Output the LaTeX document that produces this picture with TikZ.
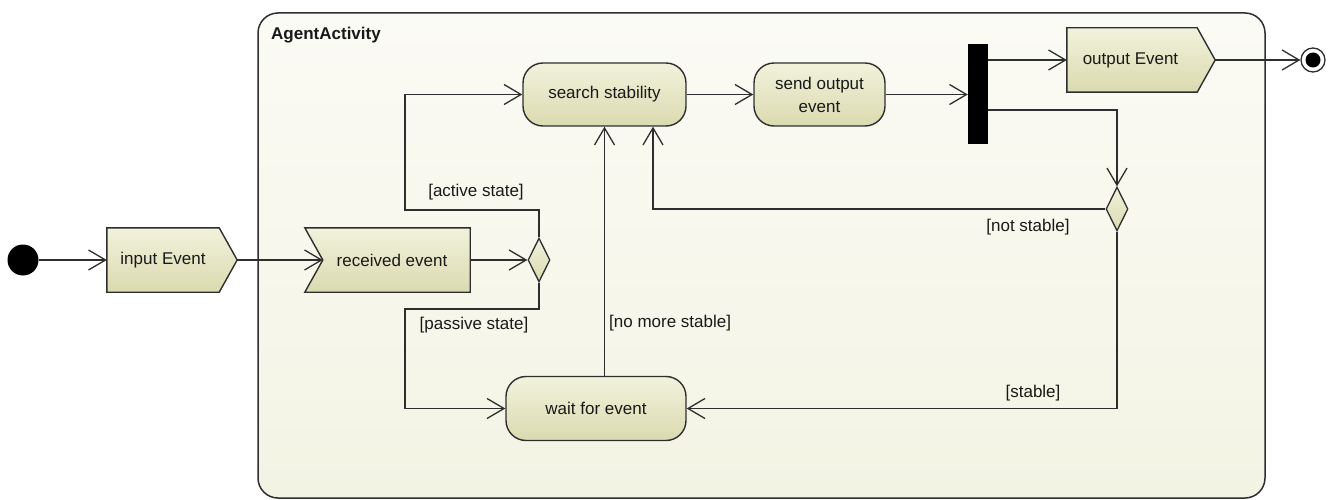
\documentclass[tikz,border=0pt]{standalone}
\usepackage{fontspec}
\setmainfont{Liberation Sans}
\usetikzlibrary{arrows.meta,shapes.geometric,calc}

\definecolor{linec}{HTML}{2E2E2E}
\definecolor{nodetop}{RGB}{242,242,220}
\definecolor{nodebot}{RGB}{218,218,176}
\definecolor{frametop}{RGB}{251,251,245}
\definecolor{framebot}{RGB}{243,243,228}

\begin{document}
\begin{tikzpicture}[x=1pt,y=-1pt,
  txt/.style={font=\fontsize{17}{23}\selectfont, text=black!90},
  frame/.style={draw=linec, line width=1.5pt, rounded corners=20pt,
    top color=frametop, bottom color=framebot, inner sep=0pt},
  act/.style={txt, draw=linec, line width=1.4pt, rounded corners=20pt,
    top color=nodetop, bottom color=nodebot, inner sep=0pt, align=center},
  sigtext/.style={txt, inner sep=0pt, minimum height=64pt},
  sigshape/.style={draw=linec, line width=1.4pt, top color=nodetop, bottom color=nodebot},
  decision/.style={diamond, draw=linec, line width=1.3pt, top color=nodetop,
    bottom color=nodebot, minimum width=22pt, minimum height=44pt, inner sep=0pt},
  forkbar/.style={fill=black, draw=none, minimum width=20pt, minimum height=100pt, inner sep=0pt},
  guard/.style={txt, inner sep=0pt},
  flow/.style={draw=linec, line width=1.3pt,
    -{Straight Barb[length=17pt,width=20pt,line width=1.3pt]}}
]
\useasboundingbox (0,0) rectangle (1331,500);

% activity frame
\node[frame, minimum width=1007pt, minimum height=485pt] (agent) at (761.5,255.5) {};
\node[txt, font=\fontsize{17}{23}\selectfont\bfseries, anchor=west, inner sep=0pt]
  (agentlabel) at (271,35) {AgentActivity};

% initial and final nodes
\node[circle, fill=black, minimum size=31pt, inner sep=0pt] (start) at (23,260) {};
\node[circle, draw=linec, line width=1.3pt, fill=white, minimum size=24pt, inner sep=0pt] (final) at (1313,60) {};
\fill[black] (final.center) circle (7.5pt);

% input Event (send signal)
\node[sigtext, minimum width=112pt] (inev) at (163,260) {};
\path[sigshape] (inev.north west) -- (inev.north east) -- ($(inev.east)+(18,0)$)
  -- (inev.south east) -- (inev.south west) -- cycle;
\node[txt] at (inev.center) {input Event};
\coordinate (inevtip) at ($(inev.east)+(18,0)$);

% received event (accept signal)
\node[sigtext, minimum width=147pt] (recv) at (396.5,260) {};
\path[sigshape] ($(recv.north west)+(-18,0)$) -- (recv.north east) -- (recv.south east)
  -- ($(recv.south west)+(-18,0)$) -- (recv.west) -- cycle;
\node[txt] at (392,260) {received event};

% output Event (send signal)
\node[sigtext, minimum width=130pt] (outev) at (1132,60) {};
\path[sigshape] (outev.north west) -- (outev.north east) -- ($(outev.east)+(18,0)$)
  -- (outev.south east) -- (outev.south west) -- cycle;
\node[txt] at (1130.5,60) {output Event};
\coordinate (outevtip) at ($(outev.east)+(18,0)$);

% actions
\node[act, minimum width=163pt, minimum height=63pt] (search) at (604.5,94.5) {search stability};
\node[act, minimum width=131pt, minimum height=63pt] (send) at (819.5,94.5) {send output\\event};
\node[act, minimum width=180pt, minimum height=64pt] (wait) at (596,408.5) {wait for event};

% control nodes
\node[decision] (dec1) at (539,260) {};
\node[decision] (dec2) at (1117,209) {};
\node[forkbar] (bar) at (978,94) {};

% flows
\draw[flow] (start) -- (inev.west);
\draw[flow] (inevtip) -- (recv.west);
\draw[flow] (recv.east) -- (dec1.west);
\draw[flow] (dec1.north) |- (405,210) |- (search.west);
\draw[flow] (dec1.south) |- (405,309) |- (wait.west);
\draw[flow] (search.south |- wait.north) -- (search.south);
\draw[flow] (search.east) -- (send.west);
\draw[flow] (send.east) -- (send.east -| bar.west);
\draw[flow] (bar.east |- outev.west) -- (outev.west);
\draw[flow] ([yshift=-16pt]bar.east) -| (dec2.north);
\draw[flow] (dec2.west) -| ([xshift=48.5pt]search.south);
\draw[flow] (dec2.south) |- (wait.east);
\draw[flow] (outevtip) -- (final.west);

% guards
\node[guard] (gactive) at (476,192) {[active state]};
\node[guard] (gpassive) at (474,325) {[passive state]};
\node[guard, anchor=west] (gnomore) at (609,323) {[no more stable]};
\node[guard] (gnot) at (1028,227) {[not stable]};
\node[guard] (gstable) at (1033,393) {[stable]};
\end{tikzpicture}
\end{document}
